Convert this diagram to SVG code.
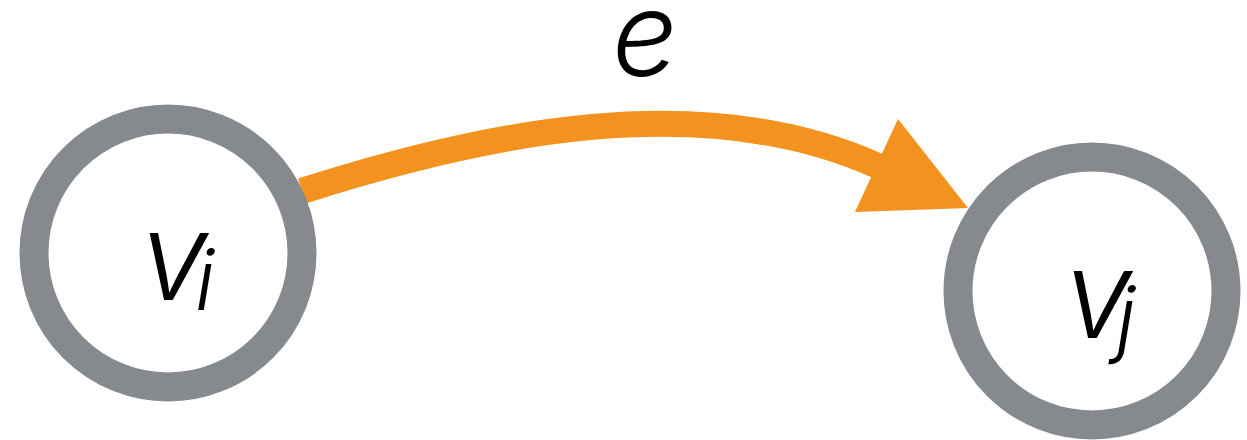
<svg xmlns="http://www.w3.org/2000/svg" width="1247" height="440" viewBox="0 0 1247 440">
<style>
.node{fill:#fff;stroke:#86898d;stroke-width:29}
.lbl{font-family:Inter,"Liberation Sans",Arial,sans-serif;font-style:italic;font-weight:300;fill:#000}
.edge{fill:none;stroke:#f3921e;stroke-width:26}
.head{fill:#f3921e}
</style>
<rect width="1247" height="440" fill="#fff"/>
<g id="connectors">
<path class="edge" d="M302,191 C480,134 700,86 878,166"/>
<polygon class="head" points="898,119 855,212 968,208"/>
<text class="lbl" x="612" y="76" font-size="116">e</text>
</g>
<g id="node-vi">
<circle class="node" cx="168" cy="253" r="134"/>
<text class="lbl" x="140" y="300" font-size="122">v</text>
<text class="lbl" x="195" y="310" font-size="84">i</text>
</g>
<g id="node-vj">
<circle class="node" cx="1092" cy="291" r="134"/>
<text class="lbl" x="1064" y="338" font-size="122">v</text>
<text class="lbl" x="1116" y="347" font-size="84">j</text>
</g>
</svg>
